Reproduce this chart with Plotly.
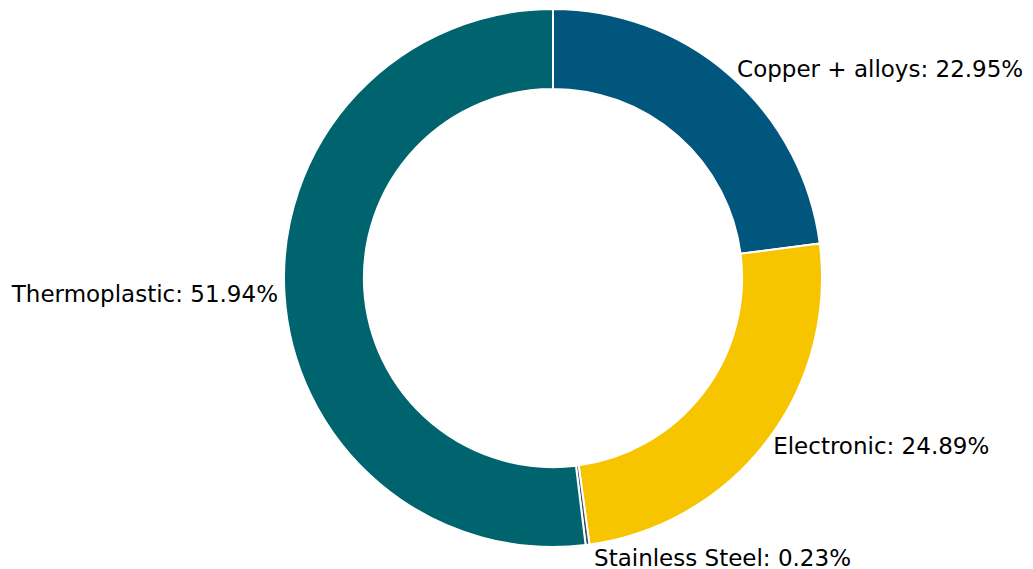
import plotly.graph_objects as go

labels = ["Copper + alloys", "Electronic", "Stainless Steel", "Thermoplastic"]
values = [22.95, 24.89, 0.23, 51.94]
colors = ["#01567e", "#f7c500", "#3b4a6b", "#00646e"]

cx, R, W = 545, 269, 1033

fig = go.Figure(go.Pie(
    labels=labels,
    values=values,
    hole=0.703,
    sort=False,
    direction="clockwise",
    rotation=0,
    marker=dict(colors=colors, line=dict(color="white", width=2)),
    texttemplate="%{label}: %{value:.2f}%",
    textposition="outside",
    textfont=dict(family="DejaVu Sans", size=23, color="black"),
    automargin=False,
    showlegend=False,
    hoverinfo="label+value",
    domain=dict(x=[(cx - R) / W, (cx + R) / W], y=[0, 1]),
))

fig.update_layout(
    width=1033, height=569,
    margin=dict(l=0, r=0, t=1, b=30),
    paper_bgcolor="white",
    plot_bgcolor="white",
)

fig.write_html("out.html")
